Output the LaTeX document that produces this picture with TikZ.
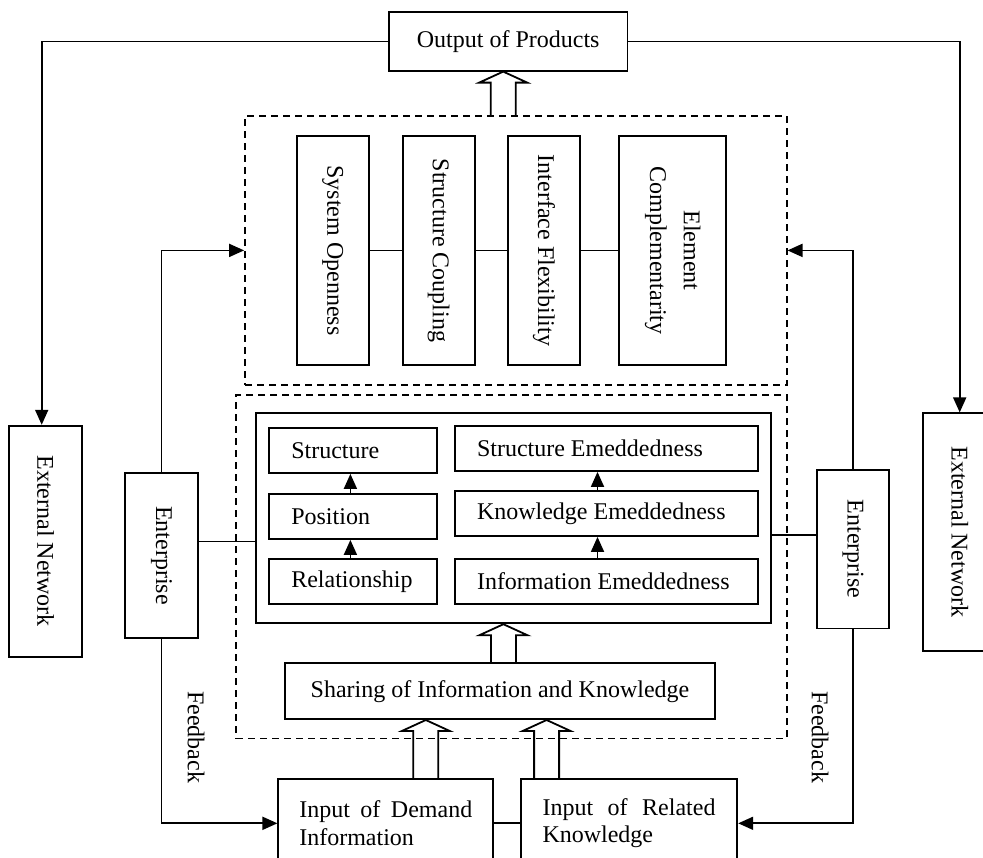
\documentclass[tikz,border=0pt]{standalone}
\usepackage{fontspec}
\setmainfont{Liberation Serif}
\usepackage{graphicx}
\usetikzlibrary{arrows.meta,calc}

\tikzset{
  box/.style={draw, line width=0.9pt, inner sep=0pt, align=center},
  dashbox/.style={draw, line width=0.9pt, dash pattern=on 3.5pt off 2.5pt, inner sep=0pt},
  cell/.style={draw, line width=0.9pt, inner xsep=11pt, inner ysep=0pt, align=flush left, minimum height=22.5pt},
  link/.style={line width=0.9pt},
  flow/.style={line width=0.9pt, -{Triangle[length=7.5pt,width=6.5pt]}}
}
\newcommand{\vtext}[1]{\rotatebox{-90}{#1}}
%hollow block arrow from #1 (base) up to #2 (tip)
\newcommand{\fatarrow}[2]{%
  \draw[link] ($(#1)+(-6.25pt,0pt)$) -- ($(#2)+(-6.25pt,-5.5pt)$) -- ($(#2)+(-12pt,-5.5pt)$) -- (#2)
    -- ($(#2)+(12pt,-5.5pt)$) -- ($(#2)+(6.25pt,-5.5pt)$) -- ($(#1)+(6.25pt,0pt)$);}

\begin{document}
\begin{tikzpicture}[x=0.5pt, y=-0.5pt, every node/.style={font=\fontsize{12pt}{13.8pt}\selectfont}]
  \useasboundingbox (0,0) rectangle (983,857);
  \clip (0,0) rectangle (983,857);

  %dashed groups
  \node[dashbox, minimum width=270.8pt, minimum height=134.7pt] (updash) at (515.8,250.4) {};
  \node[dashbox, minimum width=275.4pt, minimum height=171.7pt] (lowdash) at (511.4,566.7) {};

  %output on top
  \node[box, minimum width=119.2pt, minimum height=29.2pt] (output) at (508.2,41.5) {Output of Products};

  %four properties of the network
  \node[box, minimum width=35.9pt, minimum height=114.5pt] (sysopen) at (332.7,250.5) {\vtext{System Openness}};
  \node[box, minimum width=36pt, minimum height=114.5pt] (coupling) at (438.6,250.5) {\vtext{Structure Coupling}};
  \node[box, minimum width=36pt, minimum height=114.5pt] (flex) at (544,250.5) {\vtext{Interface Flexibility}};
  \node[box, minimum width=53.2pt, minimum height=114.5pt] (elem) at (672.5,250.5)
    {\vtext{\begin{tabular}{@{}c@{}}Element\\[3pt]Complementarity\end{tabular}}};
  \draw[link] (sysopen) -- (coupling);
  \draw[link] (coupling) -- (flex);
  \draw[link] (flex) -- (elem);

  %embeddedness block
  \node[box, minimum width=257.7pt, minimum height=105pt] (inner) at (513.4,518.3) {};
  \node[cell, text width=61.9pt] (structL) at (353.2,450.5) {Structure};
  \node[cell, text width=61.9pt] (posL) at (353.2,516.5) {Position};
  \node[cell, text width=61.9pt] (relL) at (353.2,581.5) {Relationship};
  \node[cell, text width=129.5pt] (structR) at (606.5,448.5) {Structure Emeddedness};
  \node[cell, text width=129.5pt] (knowR) at (606.5,513.5) {Knowledge Emeddedness};
  \node[cell, text width=129.5pt] (infoR) at (606.5,581.5) {Information Emeddedness};
  \draw[flow] ([xshift=-1.4pt]relL.north) -- ([xshift=-1.4pt]posL.south);
  \draw[flow] ([xshift=-1.4pt]posL.north) -- ([xshift=-1.4pt]structL.south);
  \draw[flow] ([xshift=-4.5pt]infoR.north) -- ([xshift=-4.5pt]knowR.south);
  \draw[flow] ([xshift=-4.5pt]knowR.north) -- ([xshift=-4.5pt]structR.south);

  \node[box, minimum width=215pt, minimum height=27.9pt] (share) at (500,691.2) {Sharing of Information and Knowledge};

  %inputs at the bottom
  \node[box, text width=86.5pt, align=justify, inner xsep=10.5pt, minimum height=44pt] (demand) at (385.8,823.3) {Input of Demand Information};
  \node[box, text width=86.5pt, align=justify, inner xsep=10.9pt, minimum height=44pt] (related) at (629,823.3) {Input of Related Knowledge};
  \draw[link] (demand) -- (related);

  %enterprises and external networks
  \node[box, minimum width=36.2pt, minimum height=82.2pt] (entL) at (161.5,555.5) {\vtext{Enterprise}};
  \node[box, minimum width=36.2pt, minimum height=79.2pt] (entR) at (852.9,549.2) {\vtext{Enterprise}};
  \node[box, minimum width=36.4pt, minimum height=115.5pt] (extL) at (45.7,541.2) {\vtext{External Network}};
  \node[box, minimum width=36.4pt, minimum height=118.7pt] (extR) at (959.7,532) {\vtext{External Network}};
  \node (fbL) at (196,737) {\vtext{Feedback}};
  \node (fbR) at (820,737) {\vtext{Feedback}};

  %links
  \draw[flow] (output.west) -| ([xshift=-2pt]extL.north);
  \draw[flow] (output.east) -| (extR.north);
  \draw[flow] (entL.north) |- (updash.west);
  \draw[flow] (entR.north) |- (updash.east);
  \draw[link] ([yshift=7pt]entL.east) -- ([yshift=7pt]entL.east -| inner.west);
  \draw[link] ([yshift=7pt]entR.west) -- ([yshift=7pt]entR.west -| inner.east);
  \draw[flow] (entL.south) |- (demand.west);
  \draw[flow] (entR.south) |- (related.east);

  %hollow arrows
  \coordinate (tipA) at ([xshift=-2.5pt]output.south);
  \coordinate (baseA) at (tipA |- updash.north);
  \fatarrow{baseA}{tipA}
  \coordinate (tipB) at ([xshift=-5pt]inner.south);
  \coordinate (baseB) at (tipB |- share.north);
  \fatarrow{baseB}{tipB}
  \coordinate (baseC) at ([xshift=20pt]demand.north);
  \coordinate (tipC) at (baseC |- share.south);
  \fatarrow{baseC}{tipC}
  \coordinate (baseD) at ([xshift=-41.2pt]related.north);
  \coordinate (tipD) at (baseD |- share.south);
  \fatarrow{baseD}{tipD}
\end{tikzpicture}
\end{document}
